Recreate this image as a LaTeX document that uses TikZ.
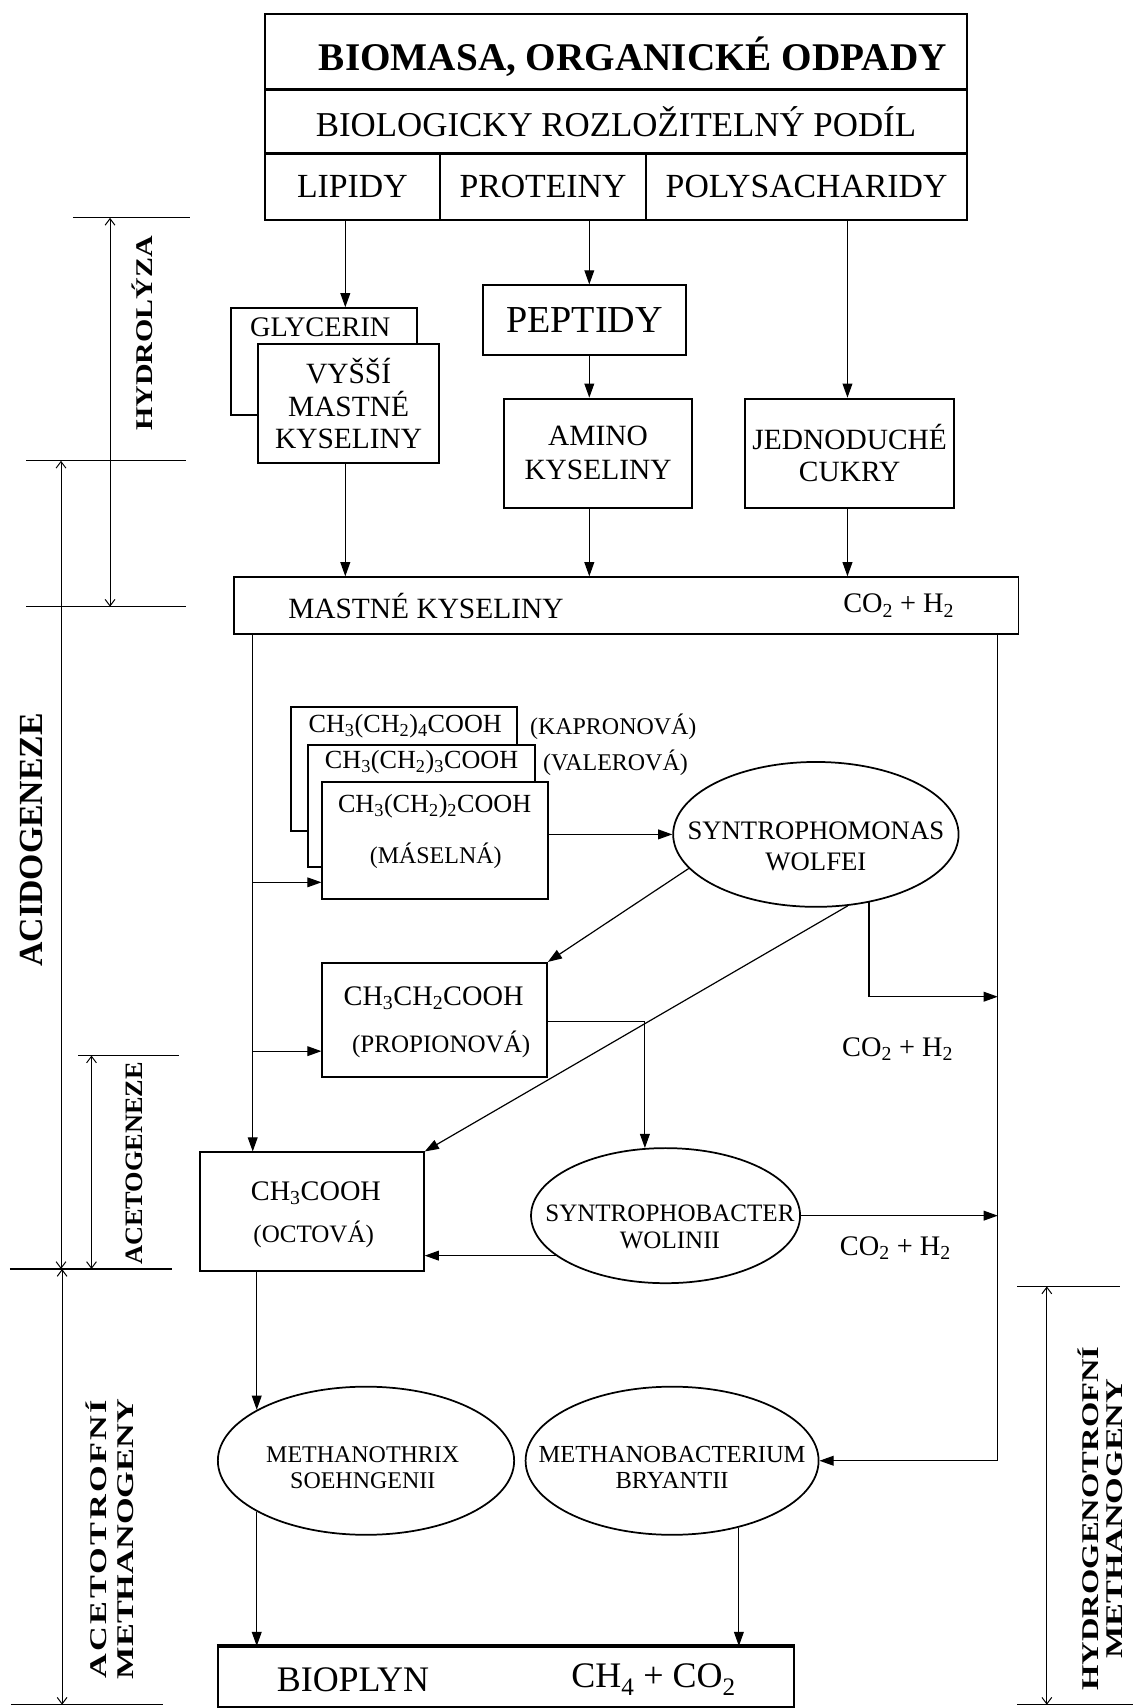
\documentclass[tikz,border=0pt]{standalone}
\usepackage{fontspec}
\usepackage{graphicx}
\setmainfont{Liberation Serif}
\usetikzlibrary{arrows.meta,shapes.geometric,calc}
\newcommand{\fs}[2]{\fontsize{#1}{#2}\selectfont}
\newcommand{\sbs}[1]{\textsubscript{#1}}
\newcommand{\xs}[2]{\scalebox{#1}[1]{#2}}
\begin{document}
\begin{tikzpicture}[x=1pt,y=-1pt,
  box/.style={draw, line width=1.8pt, inner sep=0pt, fill=white, align=center},
  ell/.style={draw, ellipse, line width=1.6pt, inner sep=0pt, fill=white},
  txt/.style={inner sep=0pt, align=center},
  conn/.style={line width=1.1pt, -{Triangle[length=13pt,width=9pt]}},
  dimline/.style={line width=1.1pt},
  dimarr/.style={line width=0.9pt, {Straight Barb[length=6pt,width=9pt]}-{Straight Barb[length=6pt,width=9pt]}},
  side/.style={inner sep=0pt, rotate=90, align=center}
]
\useasboundingbox (0,0) rectangle (1048,1568);
\fill[white] (0,0) rectangle (1048,1568);

% ---------- top box
\node[box, line width=2.2pt, minimum width=645pt, minimum height=69pt] (t1) at (565.5,47.5) {};
\node[txt, font=\bfseries\fs{36}{40}] (t1t) at (581,52) {BIOMASA, ORGANICKÉ ODPADY};
\node[box, line width=2.2pt, minimum width=645pt, minimum height=59pt, font=\fs{32}{34}] (t2) at (565.5,111.5) {BIOLOGICKY ROZLOŽITELNÝ PODÍL};
\node[box, line width=2.2pt, minimum width=161pt, minimum height=61pt, font=\fs{31}{34}] (lip) at (323.5,171.5) {LIPIDY};
\node[box, line width=2.2pt, minimum width=189pt, minimum height=61pt, font=\fs{31}{34}] (pro) at (498.5,171.5) {PROTEINY};
\node[box, line width=2.2pt, minimum width=295pt, minimum height=61pt, font=\fs{31}{34}] (pol) at (740.5,171.5) {POLYSACHARIDY};

% ---------- hydrolysis products
\node[box, minimum width=171pt, minimum height=98pt] (gly) at (297.5,332) {};
\node[txt, font=\fs{26}{30}] (glyt) at (294,300) {GLYCERIN};
\node[box, minimum width=166pt, minimum height=109pt, font=\fs{27}{30}] (vys) at (320,370.5) {VYŠŠÍ\\MASTNÉ\\KYSELINY};
\node[box, minimum width=187pt, minimum height=64pt, font=\fs{35}{38}] (pep) at (536.5,294) {PEPTIDY};
\node[box, minimum width=172pt, minimum height=100pt, font=\fs{27}{31}] (ami) at (549,416) {AMINO\\KYSELINY};
\node[box, minimum width=192pt, minimum height=100pt, font=\fs{27}{30}] (jed) at (780,416) {JEDNODUCHÉ\\CUKRY};

% ---------- fatty acids bar
\node[box, minimum width=720pt, minimum height=52pt] (mk) at (575,556) {};
\node[txt, font=\fs{27}{30}] (mkt) at (391,556) {MASTNÉ KYSELINY};
\node[txt, font=\fs{26}{30}] (mkc) at (825,556) {CO\sbs{2} + H\sbs{2}};

% ---------- acid stack
\node[box, minimum width=208pt, minimum height=114pt] (kap) at (371,706) {};
\node[txt, font=\fs{24}{26}] (kapf) at (372,667) {CH\sbs{3}(CH\sbs{2})\sbs{4}COOH};
\node[txt, font=\fs{22}{24}] (kapn) at (563,667) {(KAPRONOVÁ)};
\node[box, minimum width=208pt, minimum height=112pt] (val) at (387,740) {};
\node[txt, font=\fs{24}{26}] (valf) at (387,700) {CH\sbs{3}(CH\sbs{2})\sbs{3}COOH};
\node[txt, font=\fs{22}{24}] (valn) at (565,700) {(VALEROVÁ)};
\node[box, minimum width=207pt, minimum height=107pt] (mas) at (399.5,771.5) {};
\node[txt, font=\fs{24}{26}] (masf) at (399,740) {CH\sbs{3}(CH\sbs{2})\sbs{2}COOH};
\node[txt, font=\fs{22}{24}] (masn) at (400,786) {(MÁSELNÁ)};

\node[ell, minimum width=262pt, minimum height=133pt] (sw) at (749,766) {};
\node[txt, font=\fs{24.5}{29}] (swt) at (749,777) {SYNTROPHOMONAS\\WOLFEI};

\node[box, minimum width=206pt, minimum height=105pt] (pr) at (399,936.5) {};
\node[txt, font=\fs{26}{28}] (prf) at (398,916) {CH\sbs{3}CH\sbs{2}COOH};
\node[txt, font=\fs{23}{25}] (prn) at (405,959) {(PROPIONOVÁ)};

\node[box, minimum width=205pt, minimum height=109pt] (ac) at (286.5,1112.5) {};
\node[txt, font=\fs{26}{28}] (acf) at (290,1095) {CH\sbs{3}COOH};
\node[txt, font=\fs{23}{25}] (acn) at (288,1133) {(OCTOVÁ)};

\node[ell, minimum width=247pt, minimum height=124pt] (sb) at (611,1116) {};
\node[txt, font=\fs{23}{25}] (sbt) at (615,1126) {SYNTROPHOBACTER\\WOLINII};

\node[txt, font=\fs{26}{28}] (co1) at (824,963) {CO\sbs{2} + H\sbs{2}};
\node[txt, font=\fs{26}{28}] (co2) at (822,1146) {CO\sbs{2} + H\sbs{2}};

% ---------- methanogens
\node[ell, minimum width=272pt, minimum height=136pt] (mt) at (336,1341) {};
\node[txt, font=\fs{22}{24}] (mtt) at (333,1347) {METHANOTHRIX\\SOEHNGENII};
\node[ell, minimum width=269pt, minimum height=136pt] (mb) at (617,1341) {};
\node[txt, font=\fs{22.5}{24}] (mbt) at (617,1347) {METHANOBACTERIUM\\BRYANTII};

\node[box, minimum width=529pt, minimum height=55pt] (bio) at (464.5,1539.5) {};
\draw[line width=4pt] (bio.north west) -- (bio.north east);
\node[txt, font=\fs{33}{36}] (biot) at (324,1542) {BIOPLYN};
\node[txt, font=\fs{33}{36}] (bioc) at (600,1542) {CH\sbs{4} + CO\sbs{2}};

% ---------- helper coordinates
\coordinate (xa) at (317,0);
\coordinate (xb) at (541,0);
\coordinate (xc) at (778,0);
\coordinate (xl) at (232,0);
\coordinate (xr) at (916,0);
\coordinate (ym) at (0,810);
\coordinate (yp) at (0,965);
\coordinate (ysw) at (0,915);
\coordinate (ypr) at (0,938);

% ---------- connectors
\draw[conn] (lip.south -| xa) -- (gly.north -| xa);
\draw[conn] (pro.south -| xb) -- (pep.north -| xb);
\draw[conn] (pol.south -| xc) -- (jed.north -| xc);
\draw[conn] (pep.south -| xb) -- (ami.north -| xb);
\draw[conn] (vys.south -| xa) -- (mk.north -| xa);
\draw[conn] (ami.south -| xb) -- (mk.north -| xb);
\draw[conn] (jed.south -| xc) -- (mk.north -| xc);
\draw[conn] (mk.south -| xl) -- (ac.north -| xl);
\draw[conn] (xl |- ym) -- (mas.west |- ym);
\draw[conn] (xl |- yp) -- (pr.west |- yp);
\draw[conn] (mk.south -| xr) |- (mb.east);
\draw[conn] (mas.east |- sw.west) -- (sw.west);
\draw[conn] (sw.195) -- (pr.north east);
\draw[conn] (sw.294) -- (ac.north east);
\draw[conn] (sw.308) |- (xr |- ysw);
\draw[conn] (pr.east |- ypr) -| (sb.107);
\draw[conn] (sb.east) -- (xr |- sb.east);
\draw[conn] (sb.200) -- (ac.east |- sb.200);
\draw[conn] (ac.south -| mt.155) -- (mt.155);
\draw[conn] (mt.205) -- (mt.205 |- bio.north);
\draw[conn] (mb.315) -- (mb.315 |- bio.north);

% ---------- phase markers
\coordinate (h1a) at (67,200);  \coordinate (h1b) at (174,200);
\coordinate (h2a) at (24,423);  \coordinate (h2b) at (171,423);
\coordinate (h3a) at (24,557);  \coordinate (h3b) at (171,557);
\coordinate (h4a) at (72,969);  \coordinate (h4b) at (164,969);
\coordinate (h5a) at (9,1165);  \coordinate (h5b) at (158,1165);
\coordinate (h6a) at (10,1565); \coordinate (h6b) at (150,1565);
\coordinate (h7a) at (934,1181); \coordinate (h7b) at (1028,1181);
\coordinate (h8a) at (934,1565); \coordinate (h8b) at (1040,1565);
\foreach \p in {1,...,8} {\draw[dimline] (h\p a) -- (h\p b);}
\coordinate (xh) at (101,0);
\coordinate (xac) at (56,0);
\coordinate (xag) at (84,0);
\coordinate (xam) at (57,0);
\coordinate (xhm) at (961,0);
\draw[dimarr] (xh |- h1a) -- (xh |- h3a);
\draw[dimarr] (xac |- h2a) -- (xac |- h5a);
\draw[dimarr] (xag |- h4a) -- (xag |- h5a);
\draw[dimarr] (xam |- h5a) -- (xam |- h6a);
\draw[dimarr] (xhm |- h7a) -- (xhm |- h8a);

\node[side, font=\bfseries\fs{22}{24}] (lhyd) at (131,306) {\xs{1.25}{HYDROLÝZA}};
\node[side, font=\bfseries\fs{31}{34}] (lacid) at (29,771) {ACIDOGENEZE};
\node[side, font=\bfseries\fs{23}{26}] (lacet) at (123,1068) {\xs{1.05}{ACETOGENEZE}};
\node[side, font=\bfseries\fs{22}{25}] (lam) at (101,1413) {\xs{1.43}{\addfontfeature{LetterSpace=7}ACETOTROFNÍ}\\\xs{1.43}{METHANOGENY}};
\node[side, font=\bfseries\fs{22}{22}] (lhm) at (1010,1394) {\xs{1.36}{HYDROGENOTROFNÍ}\\\xs{1.43}{METHANOGENY}};
\end{tikzpicture}
\end{document}
